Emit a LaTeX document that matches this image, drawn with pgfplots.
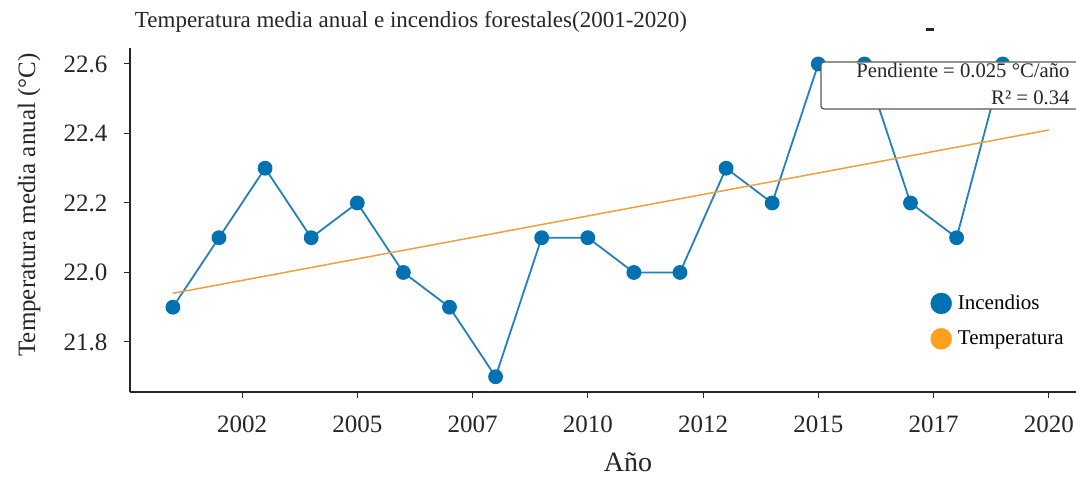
\documentclass[border=0pt]{standalone}
\usepackage{fontspec}
\setmainfont{Liberation Serif}
\usepackage{pgfplots}
\pgfplotsset{compat=1.18}
\definecolor{blueC}{RGB}{0,114,178}
\definecolor{blueL}{RGB}{35,128,186}
\definecolor{orangeT}{RGB}{240,160,60}
\definecolor{orangeL}{RGB}{255,160,30}
\begin{document}
\begin{tikzpicture}[x=1pt,y=1pt]
\useasboundingbox (0,0) rectangle (1076,481);
\begin{axis}[
 at={(130pt,89pt)}, anchor=south west,
 scale only axis, width=946pt, height=344pt,
 xmin=2000.07, xmax=2020.59, ymin=21.656, ymax=22.646,
 axis x line*=bottom, axis y line*=left,
 axis line style={line width=1.2pt, black!85},
 xtick={2002.5,2005,2007.5,2010,2012.5,2015,2017.5,2020},
 xticklabels={\mbox{2002},\mbox{2005},\mbox{2007},\mbox{2010},\mbox{2012},\mbox{2015},\mbox{2017},\mbox{2020}},
 ytick={21.8,22.0,22.2,22.4,22.6},
 yticklabels={\mbox{21.8},\mbox{22.0},\mbox{22.2},\mbox{22.4},\mbox{22.6}},
 tick align=outside, major tick length=6pt,
 tick style={line width=1pt, black!85},
 ticklabel style={font=\fontsize{25}{29}\selectfont, text=black!85},
 xticklabel style={yshift=-14pt}, yticklabel style={xshift=-13pt},
 legend style={at={(0.846,0.206)}, anchor=west, draw=none, fill=none, font=\fontsize{21}{25}\selectfont, row sep=14pt, inner sep=0pt, cells={anchor=west}},
 clip=false,
]
\addplot[blueL, line width=1.8pt, mark=*, mark size=6.5pt, mark options={fill=blueC, draw=blueC}, forget plot] coordinates {
(2001,21.9) (2002,22.1) (2003,22.3) (2004,22.1) (2005,22.2) (2006,22.0) (2007,21.9) (2008,21.7) (2009,22.1) (2010,22.1)
(2011,22.0) (2012,22.0) (2013,22.3) (2014,22.2) (2015,22.6) (2016,22.6) (2017,22.2) (2018,22.1) (2019,22.6)};
\addplot[orangeT, line width=1.5pt, forget plot] coordinates {(2001,21.94) (2020,22.41)};
\addlegendimage{legend image code/.code={\fill[blueC] (0.2cm,0) circle (10.5pt); \path (0.2cm+14.5pt,0);}}
\addlegendentry{Incendios}
\addlegendimage{legend image code/.code={\fill[orangeL] (0.2cm,0) circle (10.5pt); \path (0.2cm+14.5pt,0);}}
\addlegendentry{Temperatura}
\end{axis}
\draw[black!65, line width=1.3pt, rounded corners=3pt, fill=white] (821,372) rectangle (1095,419);
\node[anchor=east, font=\fontsize{20.7}{24}\selectfont, text=black!85] at (1073,411) {Pendiente = 0.025 °C/año};
\node[anchor=east, font=\fontsize{20.7}{24}\selectfont, text=black!85] at (1073,383) {R² = 0.34};
\node[font=\fontsize{23}{27}\selectfont, text=black!85] at (411,459) {Temperatura media anual e incendios forestales(2001-2020)};
\node[font=\fontsize{28}{32}\selectfont, text=black!85] at (628,19) {Año};
\node[rotate=90, font=\fontsize{25}{29}\selectfont, text=black!85] at (29,276) {Temperatura media anual (°C)};
\fill[black!85] (926,449.5) rectangle (934,452.5);
\end{tikzpicture}
\end{document}
